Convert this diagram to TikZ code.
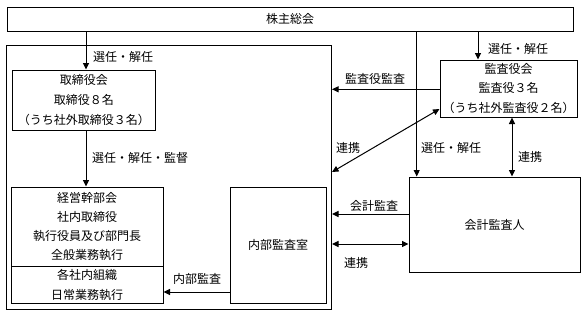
\documentclass[tikz,border=0pt]{standalone}
\usepackage{fontspec}
\setmainfont{Noto Sans CJK JP}
\usetikzlibrary{arrows.meta}
\begin{document}
\begin{tikzpicture}[x=1pt,y=-1pt,
  box/.style={draw,line width=1pt,inner sep=0pt,align=center,font=\fontsize{12}{20}\selectfont},
  lab/.style={inner sep=0pt,font=\fontsize{12}{14}\selectfont},
  arr/.style={line width=1pt,-{Triangle[length=6.5pt,width=6pt]}},
  darr/.style={line width=1pt,{Triangle[length=6.5pt,width=6pt]}-{Triangle[length=6.5pt,width=6pt]}}]
\useasboundingbox (0,0) rectangle (586,316);
\node[box,minimum width=566pt,minimum height=24pt] (sh) at (290,19) {株主総会};
\node[box,minimum width=325pt,minimum height=264pt] (cont) at (169,177) {};
\node[box,minimum width=142.5pt,minimum height=60pt] (tb) at (83.75,100) {取締役会\\取締役８名\\（うち社外取締役３名）};
\node[box,minimum width=152pt,minimum height=79pt,font=\fontsize{12}{19.3}\selectfont] (kbu) at (87,226.5) {経営幹部会\\社内取締役\\執行役員及び部門長\\全般業務執行};
\node[box,minimum width=152pt,minimum height=37pt] (kbl) at (87,284.5) {各社内組織\\日常業務執行};
\node[box,minimum width=96pt,minimum height=116pt] (nai) at (278,245) {内部監査室};
\node[box,minimum width=137pt,minimum height=57pt,font=\fontsize{12}{19.2}\selectfont] (ks) at (508.5,88.5) {監査役会\\監査役３名\\（うち社外監査役２名）};
\node[box,minimum width=171pt,minimum height=95.5pt] (kk) at (494.5,224.75) {会計監査人};
% connectors
\coordinate (c1) at (86,0);
\draw[arr] (sh.south -| c1) -- (tb.north -| c1);
\draw[arr] (tb.south -| c1) -- (kbu.north -| c1);
\coordinate (c2) at (478,0);
\draw[arr] (sh.south -| c2) -- (ks.north -| c2);
\coordinate (c3) at (0,89.3);
\draw[arr] (ks.west |- c3) -- (cont.east |- c3);
\coordinate (c4a) at (0,172);
\coordinate (c4b) at (0,109);
\draw[darr] (cont.east |- c4a) -- (ks.west |- c4b);
\coordinate (c5) at (416.7,0);
\draw[arr] (sh.south -| c5) -- (kk.north -| c5);
\coordinate (c6) at (512,0);
\draw[darr] (ks.south -| c6) -- (kk.north -| c6);
\coordinate (c7) at (0,214);
\draw[arr] (kk.west |- c7) -- (cont.east |- c7);
\coordinate (c8) at (0,244);
\draw[darr] (cont.east |- c8) -- (kk.west |- c8);
\coordinate (c9) at (0,292);
\draw[arr] (nai.west |- c9) -- (kbl.east |- c9);
% labels
\node[lab,anchor=west] (l1) at (93,57) {選任・解任};
\node[lab,anchor=west] (l2) at (92,158) {選任・解任・監督};
\node[lab,anchor=west] (l3) at (488,49) {選任・解任};
\node[lab] (l4) at (375,79) {監査役監査};
\node[lab] (l5) at (348,148) {連携};
\node[lab] (l6) at (451,148) {選任・解任};
\node[lab] (l7) at (530,157) {連携};
\node[lab] (l8) at (374,206) {会計監査};
\node[lab] (l9) at (356,263) {連携};
\node[lab] (l10) at (197,279) {内部監査};
\end{tikzpicture}
\end{document}
